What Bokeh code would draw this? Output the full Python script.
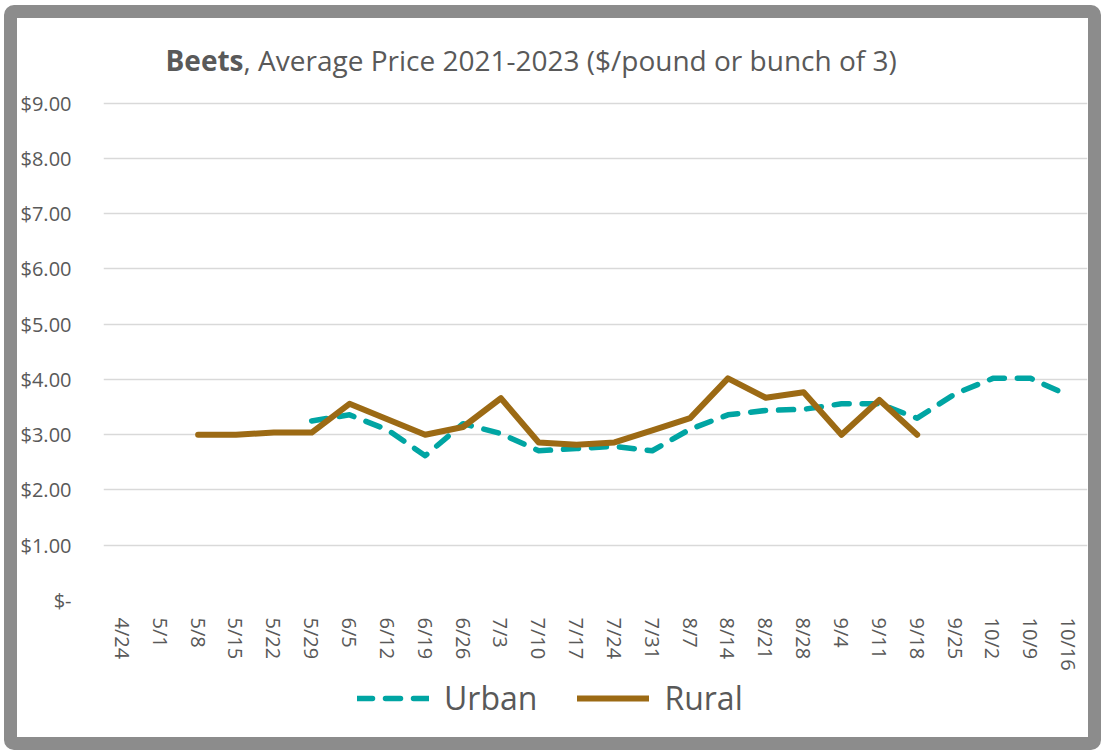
import math
from bokeh.plotting import figure
from bokeh.models import FactorRange, Range1d, FixedTicker, Label, Legend, LegendItem, ColumnDataSource
from bokeh.layouts import column
from bokeh.embed import file_html
from bokeh.resources import INLINE

dates = ["4/24", "5/1", "5/8", "5/15", "5/22", "5/29", "6/5", "6/12", "6/19", "6/26",
         "7/3", "7/10", "7/17", "7/24", "7/31", "8/7", "8/14", "8/21", "8/28", "9/4",
         "9/11", "9/18", "9/25", "10/2", "10/9", "10/16"]
nan = float("nan")
urban = [nan, nan, nan, nan, nan, 3.25, 3.36, 3.09, 2.62, 3.20,
         3.02, 2.71, 2.75, 2.79, 2.71, 3.10, 3.36, 3.44, 3.46, 3.56,
         3.56, 3.30, 3.74, 4.02, 4.02, 3.71]
rural = [nan, nan, 3.00, 3.00, 3.04, 3.04, 3.56, 3.28, 3.00, 3.14,
         3.66, 2.86, 2.82, 2.86, 3.08, 3.30, 4.02, 3.67, 3.77, 3.00,
         3.63, 3.00, nan, nan, nan, nan]
ytick_values = [0, 1, 2, 3, 4, 5, 6, 7, 8, 9]
ytick_labels = ["$-", "$1.00", "$2.00", "$3.00", "$4.00", "$5.00", "$6.00", "$7.00", "$8.00", "$9.00"]
series_names = ["Urban", "Rural"]
title_bold = "Beets"
title_rest = ", Average Price 2021-2023 ($/pound or bunch of 3)"

FONT = "Open Sans"
TXT = "#595959"
URBAN_C = "#00A5A3"
RURAL_C = "#9C6A14"
URBAN_STYLE = dict(line_color=URBAN_C, line_width=5.5, line_dash="15 13",
                   line_cap="round", line_join="round")
RURAL_STYLE = dict(line_color=RURAL_C, line_width=6, line_cap="round", line_join="round")

src = ColumnDataSource(dict(date=dates, urban=urban, rural=rural))

W = 1071
H1 = 657          # main chart
H2 = 719 - H1     # legend strip
BL, BR, BT, BB = 86, 1, 0, 75
PX_PER_UNIT = 55.26
TOP_EXTRA = 84.7 / PX_PER_UNIT          # white space above the $9 line (title area)

p = figure(x_range=FactorRange(factors=dates), y_range=Range1d(0, 9 + TOP_EXTRA),
           width=W, height=H1, output_backend="svg", toolbar_location=None,
           min_border_left=BL, min_border_right=BR, min_border_top=BT, min_border_bottom=BB,
           background_fill_color="white", border_fill_color="white",
           styles={"background-color": "white"})
p.outline_line_color = None

p.xgrid.visible = False
p.ygrid.grid_line_color = "#d9d9d9"
p.ygrid.grid_line_width = 1.6

p.yaxis.ticker = FixedTicker(ticks=ytick_values)
p.yaxis.major_label_overrides = {v: l for v, l in zip(ytick_values, ytick_labels)}
p.yaxis.axis_line_color = None
p.yaxis.major_tick_line_color = None
p.yaxis.minor_tick_line_color = None
p.yaxis.major_tick_out = 0
p.yaxis.major_tick_in = 0
p.yaxis.major_label_standoff = 32
p.yaxis.major_label_text_font = FONT
p.yaxis.major_label_text_font_size = "20px"
p.yaxis.major_label_text_color = TXT

p.xaxis.axis_line_color = None
p.xaxis.major_tick_line_color = None
p.xaxis.minor_tick_line_color = None
p.xaxis.major_tick_out = 0
p.xaxis.major_tick_in = 0
p.xaxis.major_label_standoff = 17
p.xaxis.major_label_orientation = "vertical"
p.xaxis.major_label_text_font = FONT
p.xaxis.major_label_text_font_size = "20px"
p.xaxis.major_label_text_color = TXT

p.line("date", "urban", source=src, **URBAN_STYLE)
p.line("date", "rural", source=src, **RURAL_STYLE)

title_y = 9 + (84.7 - 42) / PX_PER_UNIT
p.add_layout(Label(x=140, y=title_y, x_units="screen", y_units="data", text=title_bold,
                   text_font=FONT, text_font_style="bold", text_font_size="28px",
                   text_color=TXT, text_align="right", text_baseline="middle"))
p.add_layout(Label(x=140, y=title_y, x_units="screen", y_units="data", text=title_rest,
                   text_font=FONT, text_font_size="28px",
                   text_color=TXT, text_align="left", text_baseline="middle"))

# legend strip below the chart
q = figure(width=W, height=H2, output_backend="svg", toolbar_location=None,
           x_range=Range1d(0, 1), y_range=Range1d(0, 1),
           x_axis_type=None, y_axis_type=None, min_border=0,
           background_fill_color="white", border_fill_color="white",
           styles={"background-color": "white"})
q.outline_line_color = None
q.grid.visible = False
placeholder = ColumnDataSource(dict(x=[nan], y=[nan]))
lr_u = q.line("x", "y", source=placeholder, **URBAN_STYLE)
lr_r = q.line("x", "y", source=placeholder, **RURAL_STYLE)
legend = Legend(items=[LegendItem(label=series_names[0], renderers=[lr_u]),
                       LegendItem(label=series_names[1], renderers=[lr_r])],
                orientation="horizontal", location=(254, 18),
                glyph_width=72, glyph_height=30, label_standoff=15, spacing=40,
                padding=6, margin=0,
                label_text_font=FONT, label_text_font_size="32px", label_text_color=TXT,
                border_line_color=None, background_fill_alpha=0)
q.add_layout(legend, "center")

layout = column(p, q, spacing=0,
                styles={"background-color": "white", "border": "13px solid #8c8c8c",
                        "border-radius": "10px", "margin": "5px 0px 0px 4px"})

open("out.html", "w").write(file_html(layout, INLINE))
